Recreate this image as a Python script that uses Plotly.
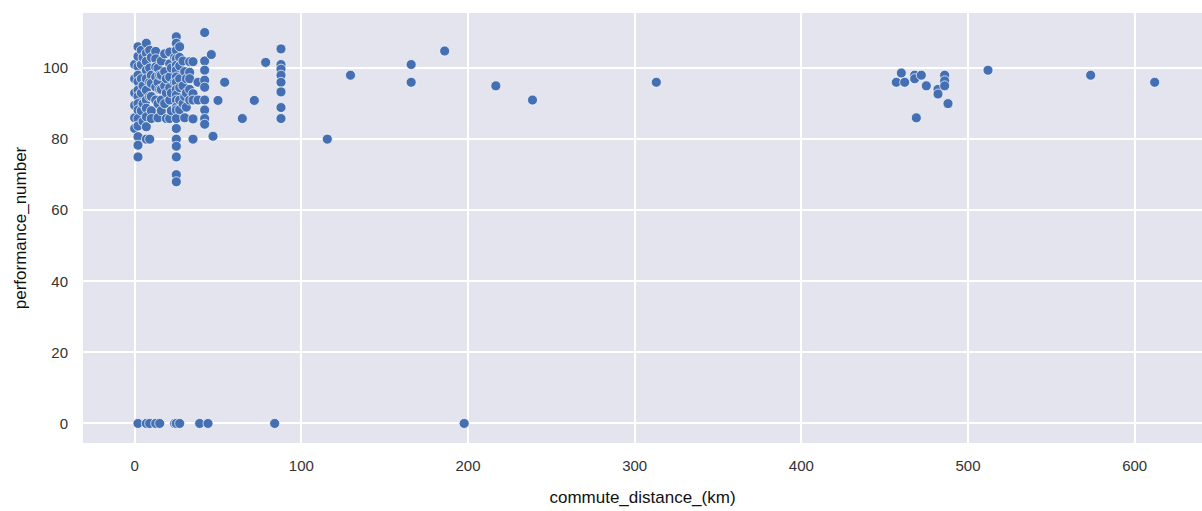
import plotly.graph_objects as go

# Data (commute distance in km, performance number)
commute_distance_km = (
    [0] * 6
    + [2] * 15
    + [4] * 5
    + [5] * 4
    + [7] * 12
    + [9] * 6
    + [10] * 6
    + [12.6] * 7
    + [14] * 4
    + [15] * 3
    + [16] * 5
    + [18] * 4
    + [19] * 3
    + [21] * 6
    + [22] * 3
    + [24] * 3
    + [25] * 21
    + [27] * 8
    + [29] * 3
    + [30] * 3
    + [31] * 3
    + [33] * 5
    + [35] * 5
    + [38] * 2
    + [39]
    + [42] * 9
    + [44, 46, 47, 50, 54, 64.6, 71.8, 78.6, 84]
    + [87.8] * 8
    + [115.6, 129.5, 165.9, 165.9, 186, 197.7, 216.7, 238.7, 313]
    + [457, 460, 462, 468, 468, 469, 472, 475, 482, 482, 486, 486, 486, 488]
    + [512, 573.6, 612]
)

performance_number = (
    [101, 97, 93, 89.5, 86, 83]
    + [106, 103.3, 100.4, 98, 96.2, 93.8, 92, 90, 88.2, 85.8, 83.7, 80.7, 78.3, 75, 0]
    + [105, 101, 97, 93, 88]
    + [103, 95, 90, 85]
    + [107, 104.2, 101.9, 99.4, 97, 93.8, 91, 88.7, 86.3, 83.5, 80, 0]
    + [105, 100, 96, 92, 80, 0]
    + [103, 98, 95.7, 92, 88, 85.8]
    + [104.7, 102.6, 100.3, 97.5, 94.7, 91, 0]
    + [100, 96, 90, 86]
    + [98, 94, 0]
    + [102, 98, 94, 91, 88]
    + [104, 99, 95, 90]
    + [97, 93, 85.8]
    + [104.5, 101.2, 97.5, 94.5, 91, 85.8]
    + [100, 93, 88]
    + [103, 96, 0]
    + [108.8, 107, 105, 102.6, 100.8, 99.4, 97.5, 96, 94, 92.4, 91, 89, 88.2,
       85.8, 83, 80, 78, 75, 70, 68, 0]
    + [106, 103, 100.6, 97, 94.5, 91, 88.3, 0]
    + [102, 95, 90]
    + [99, 92, 86]
    + [97, 93, 89]
    + [101.8, 98.8, 97, 94, 91]
    + [101.8, 92.8, 91, 85.7, 80]
    + [96, 91]
    + [0]
    + [110, 102, 99.4, 96.6, 94.6, 91, 88.2, 85.8, 84.2]
    + [0, 103.8, 80.8, 90.9, 96, 85.8, 90.9, 101.6, 0]
    + [105.4, 101, 99.7, 98, 96, 93.3, 88.9, 85.8]
    + [80, 98, 101, 96, 104.8, 0, 95, 91, 96]
    + [96, 98.6, 96, 98, 97, 86, 98, 95, 94, 92.7, 98, 96.4, 95, 90]
    + [99.4, 98, 96]
)

x_ticks = [0, 100, 200, 300, 400, 500, 600]
y_ticks = [0, 20, 40, 60, 80, 100]

fig = go.Figure(
    go.Scatter(
        x=commute_distance_km,
        y=performance_number,
        mode="markers",
        marker=dict(size=10, color="#4470B3", line=dict(width=0.7, color="white")),
        showlegend=False,
    )
)

font_family = "Liberation Sans, Arial, sans-serif"
fig.update_layout(
    width=1202,
    height=511,
    margin=dict(l=83, r=0, t=13, b=68),
    paper_bgcolor="white",
    plot_bgcolor="#E3E4EE",
    font=dict(family=font_family, size=15, color="#333333"),
)
fig.update_xaxes(
    range=[-31, 640.4],
    tickvals=x_ticks,
    ticktext=[str(v) for v in x_ticks],
    showgrid=True,
    gridcolor="white",
    gridwidth=1.5,
    zeroline=False,
    showline=False,
    ticks="",
    ticklabelstandoff=12,
    title=dict(text="commute_distance_(km)", font=dict(size=17, color="#111111"), standoff=18),
)
fig.update_yaxes(
    range=[-5.5, 115.5],
    tickvals=y_ticks,
    ticktext=[str(v) for v in y_ticks],
    showgrid=True,
    gridcolor="white",
    gridwidth=1.5,
    zeroline=False,
    showline=False,
    ticks="",
    ticklabelstandoff=14,
    title=dict(text="performance_number", font=dict(size=17, color="#111111"), standoff=12),
)

fig.write_html("out.html")
